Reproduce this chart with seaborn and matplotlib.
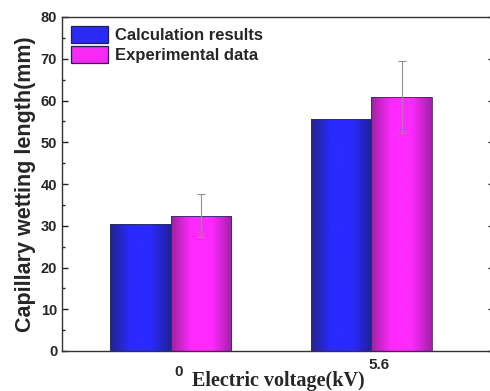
import numpy as np
import pandas as pd
import matplotlib
matplotlib.use("Agg")
import matplotlib.pyplot as plt
import matplotlib.transforms as mtransforms
import seaborn as sns
from matplotlib.colors import LinearSegmentedColormap
from matplotlib.ticker import MultipleLocator
from matplotlib.patches import Patch

voltages = ["0", "5.6"]
series = ["Calculation results", "Experimental data"]
calc_values = [30.5, 55.6]
exp_values = [32.4, 60.9]
exp_errors = [5.1, 8.6]

df = pd.DataFrame({
    "voltage": voltages * 2,
    "series": [series[0]] * 2 + [series[1]] * 2,
    "value": calc_values + exp_values,
})

sns.set_style("white")
plt.rcParams["font.family"] = ["Liberation Sans", "DejaVu Sans"]

fig = plt.figure(figsize=(4.9, 3.91), dpi=100)
ax = fig.add_axes([62/490, 1 - 351/391, (494 - 62)/490, (351 - 17)/391])

palette = {series[0]: "#2a2af5", series[1]: "#f52af5"}
sns.barplot(data=df, x="voltage", y="value", hue="series", palette=palette,
            errorbar=None, width=0.6, ax=ax, saturation=1,
            edgecolor="#303060", linewidth=0.6, legend=False)

cmaps = {
    series[0]: LinearSegmentedColormap.from_list("b", ["#23238a", "#2a2aff", "#2a2aff", "#20209a"]),
    series[1]: LinearSegmentedColormap.from_list("m", ["#a020a0", "#ff2aff", "#ff2aff", "#a11fa8"]),
}
grad = np.linspace(0, 1, 256).reshape(1, -1)
bars = [p for p in ax.patches if p.get_height() > 0]
n = len(voltages)
for i, p in enumerate(bars):
    s = series[i // n]
    x0, w, h = p.get_x(), p.get_width(), p.get_height()
    im = ax.imshow(grad, cmap=cmaps[s], aspect="auto",
                   extent=(x0, x0 + w, 0, h), zorder=p.get_zorder() + 0.1)
    im.set_clip_path(p)
    p.set_facecolor("none")
    p.set_zorder(p.get_zorder() + 0.2)

# error bars for experimental data
exp_bars = bars[n:]
xs = [p.get_x() + p.get_width() / 2 for p in exp_bars]
ax.errorbar(xs, exp_values, yerr=exp_errors, fmt="none", ecolor="#909090",
            elinewidth=0.8, capsize=3, capthick=0.8, zorder=10)

ax.set_xlim(-0.54, 1.61)
ax.set_ylim(0, 80)
ax.yaxis.set_major_locator(MultipleLocator(10))
ax.yaxis.set_minor_locator(MultipleLocator(5))
ax.tick_params(axis="y", which="both", direction="in", right=True, left=True,
               labelsize=10.5, width=1.0)
ax.tick_params(axis="y", which="major", length=4)
ax.tick_params(axis="y", which="minor", length=2.5)
ax.tick_params(axis="x", direction="in", length=3, labelsize=11, pad=8)
for lab in ax.get_yticklabels() + ax.get_xticklabels():
    lab.set_fontweight("bold")

# small offsets of the category labels as in the reference
offsets = [(8, -3), (8, 4)]
for lab, (dx, dy) in zip(ax.get_xticklabels(), offsets):
    lab.set_transform(lab.get_transform() +
                      mtransforms.ScaledTranslation(dx / 100, dy / 100, fig.dpi_scale_trans))

for sp in ax.spines.values():
    sp.set_color("#333333")
    sp.set_linewidth(1.0)

ax.set_ylabel("Capillary wetting length(mm)", fontsize=15.5, fontweight="bold", labelpad=3)
ax.set_xlabel("Electric voltage(kV)", fontsize=14.5, fontweight="bold",
              family=["Liberation Serif", "DejaVu Serif"], labelpad=-6)

leg_handles = [Patch(facecolor=palette[s], edgecolor="#202050", linewidth=0.9) for s in series]
leg = ax.legend(leg_handles, series, loc="upper left", frameon=False,
                prop={"weight": "bold", "size": 12}, handlelength=2.2,
                handleheight=1.15, handletextpad=0.4, labelspacing=0.2,
                borderaxespad=0.25, borderpad=0.3)

fig.savefig("out.png", dpi=100)
